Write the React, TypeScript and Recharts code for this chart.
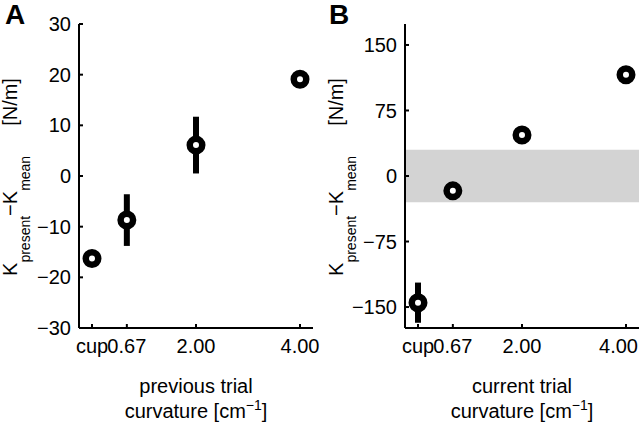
import React from 'react';
import { ScatterChart, Scatter, XAxis, YAxis, ErrorBar, ReferenceArea } from 'recharts';

// ---------- data ----------
const curvatures = [0, 0.67, 2, 4];
const curvatureLabels = ['cup', '0.67', '2.00', '4.00'];
const prevMeans = [-16.3, -8.7, 6.1, 19.1];
const prevErrs = [1.5, 5.1, 5.6, 1.5];
const currMeans = [-145, -17, 47, 116];
const currErrs = [23, 6, 6, 6];
const yTicksA = [-30, -20, -10, 0, 10, 20, 30];
const yTicksB = [-150, -75, 0, 75, 150];
const bandLow = -30;
const bandHigh = 30;

const dataA = curvatures.map((x, i) => ({ x, y: prevMeans[i], err: prevErrs[i] }));
const dataB = curvatures.map((x, i) => ({ x, y: currMeans[i], err: currErrs[i] }));

// ---------- styling ----------
const FONT = '"Liberation Sans", Arial, Helvetica, sans-serif';
const TICK_MARGIN_X = 11;
const TICK_MARGIN_Y = 8;
const PLOT_TOP = 24;
const PLOT_BOTTOM = 328;
const CHART_H = 424;

const XTick = (props: any) => {
  const { x, y, payload, maxRight } = props;
  const axisY = y - TICK_MARGIN_X;
  const idx = curvatures.findIndex((c) => Math.abs(c - payload.value) < 1e-6);
  const label = idx >= 0 ? curvatureLabels[idx] : String(payload.value);
  const halfW = label.length * 5.6;
  const clamp = maxRight != null && x + halfW > maxRight;
  return (
    <g>
      <line x1={x} x2={x} y1={axisY} y2={axisY - 4} stroke="#000" strokeWidth={2} />
      <text
        x={clamp ? maxRight : x}
        y={y}
        dy="0.71em"
        textAnchor={clamp ? 'end' : 'middle'}
        fontSize={20}
        fontFamily={FONT}
        fill="#000"
      >
        {label}
      </text>
    </g>
  );
};

const YTick = (props: any) => {
  const { x, y, payload } = props;
  const axisX = x + TICK_MARGIN_Y;
  const v = payload.value;
  return (
    <g>
      <line x1={axisX} x2={axisX + 4} y1={y} y2={y} stroke="#000" strokeWidth={2} />
      <text x={x} y={y} dy="0.355em" textAnchor="end" fontSize={20} fontFamily={FONT} fill="#000">
        {v < 0 ? '\u2212' + Math.abs(v) : String(v)}
      </text>
    </g>
  );
};

const Marker = (p: any) => (
  <circle cx={p.cx} cy={p.cy} r={6.25} fill="#fff" stroke="#000" strokeWidth={6.5} />
);

const makeYLabel = (letter: string, letterX: number, axisX: number) => () => {
  const cx = axisX - 62.5;
  const cy = (PLOT_TOP + PLOT_BOTTOM) / 2 + 1;
  return (
    <g fontFamily={FONT} fill="#000">
      <text x={letterX} y={24} fontSize={28} fontWeight="bold">{letter}</text>
      <text transform={`translate(${cx},${cy}) rotate(-90)`} textAnchor="middle" fontSize={20}>
        <tspan>K</tspan>
        <tspan fontSize={14} dy={13}>present</tspan>
        <tspan dy={-13}>{'\u2212K'}</tspan>
        <tspan fontSize={14} dy={13}>mean</tspan>
        <tspan dy={-13} dx={30}>[N/m]</tspan>
      </text>
    </g>
  );
};

const makeXLabel = (line1: string, centerX: number) => () => (
  <g fontFamily={FONT} fill="#000" fontSize={20}>
    <text x={centerX} y={393} textAnchor="middle">{line1}</text>
    <text x={centerX} y={418} textAnchor="middle">
      curvature [cm<tspan fontSize={14} dy={-8}>{'\u22121'}</tspan><tspan dy={8}>]</tspan>
    </text>
  </g>
);

const axisLine = { stroke: '#000', strokeWidth: 2 };

export default function App() {
  // Panel A geometry
  const yAxisWA = 79;
  const rightA = 7;
  const centerA = yAxisWA + (320 - yAxisWA - rightA) / 2;
  // Panel B geometry
  const yAxisWB = 85;
  const rightB = 1;
  const centerB = yAxisWB + (320 - yAxisWB - rightB) / 2;

  return (
    <div style={{ position: 'fixed', left: 0, top: 0, width: 640, height: 424, background: '#fff' }}>
      <div style={{ position: 'absolute', left: 0, top: 0 }}>
        <ScatterChart width={320} height={CHART_H} margin={{ top: PLOT_TOP, right: rightA, bottom: 0, left: 0 }}>
          <XAxis
            type="number"
            dataKey="x"
            domain={[-0.25, 4.25]}
            ticks={curvatures}
            interval={0}
            height={CHART_H - PLOT_BOTTOM}
            tickSize={0}
            tickMargin={TICK_MARGIN_X}
            tickLine={false}
            axisLine={axisLine}
            tick={<XTick />}
            allowDataOverflow
            label={makeXLabel('previous trial', centerA)}
          />
          <YAxis
            type="number"
            dataKey="y"
            domain={[-30, 30]}
            ticks={yTicksA}
            interval={0}
            width={yAxisWA}
            tickSize={0}
            tickMargin={TICK_MARGIN_Y}
            tickLine={false}
            axisLine={axisLine}
            tick={<YTick />}
            allowDataOverflow
            label={makeYLabel('A', 5, yAxisWA)}
          />
          <Scatter data={dataA} shape={Marker} isAnimationActive={false}>
            <ErrorBar dataKey="err" direction="y" width={0} strokeWidth={6} stroke="#000" isAnimationActive={false} />
          </Scatter>
        </ScatterChart>
      </div>
      <div style={{ position: 'absolute', left: 320, top: 0 }}>
        <ScatterChart width={320} height={CHART_H} margin={{ top: PLOT_TOP, right: rightB, bottom: 0, left: 0 }}>
          <ReferenceArea y1={bandLow} y2={bandHigh} fill="#d3d3d3" fillOpacity={1} stroke="none" />
          <XAxis
            type="number"
            dataKey="x"
            domain={[-0.25, 4.25]}
            ticks={curvatures}
            interval={0}
            height={CHART_H - PLOT_BOTTOM}
            tickSize={0}
            tickMargin={TICK_MARGIN_X}
            tickLine={false}
            axisLine={axisLine}
            tick={<XTick maxRight={318} />}
            allowDataOverflow
            label={makeXLabel('current trial', centerB)}
          />
          <YAxis
            type="number"
            dataKey="y"
            domain={[-174, 174]}
            ticks={yTicksB}
            interval={0}
            width={yAxisWB}
            tickSize={0}
            tickMargin={TICK_MARGIN_Y}
            tickLine={false}
            axisLine={axisLine}
            tick={<YTick />}
            allowDataOverflow
            label={makeYLabel('B', 9, yAxisWB)}
          />
          <Scatter data={dataB} shape={Marker} isAnimationActive={false}>
            <ErrorBar dataKey="err" direction="y" width={0} strokeWidth={6} stroke="#000" isAnimationActive={false} />
          </Scatter>
        </ScatterChart>
      </div>
    </div>
  );
}
